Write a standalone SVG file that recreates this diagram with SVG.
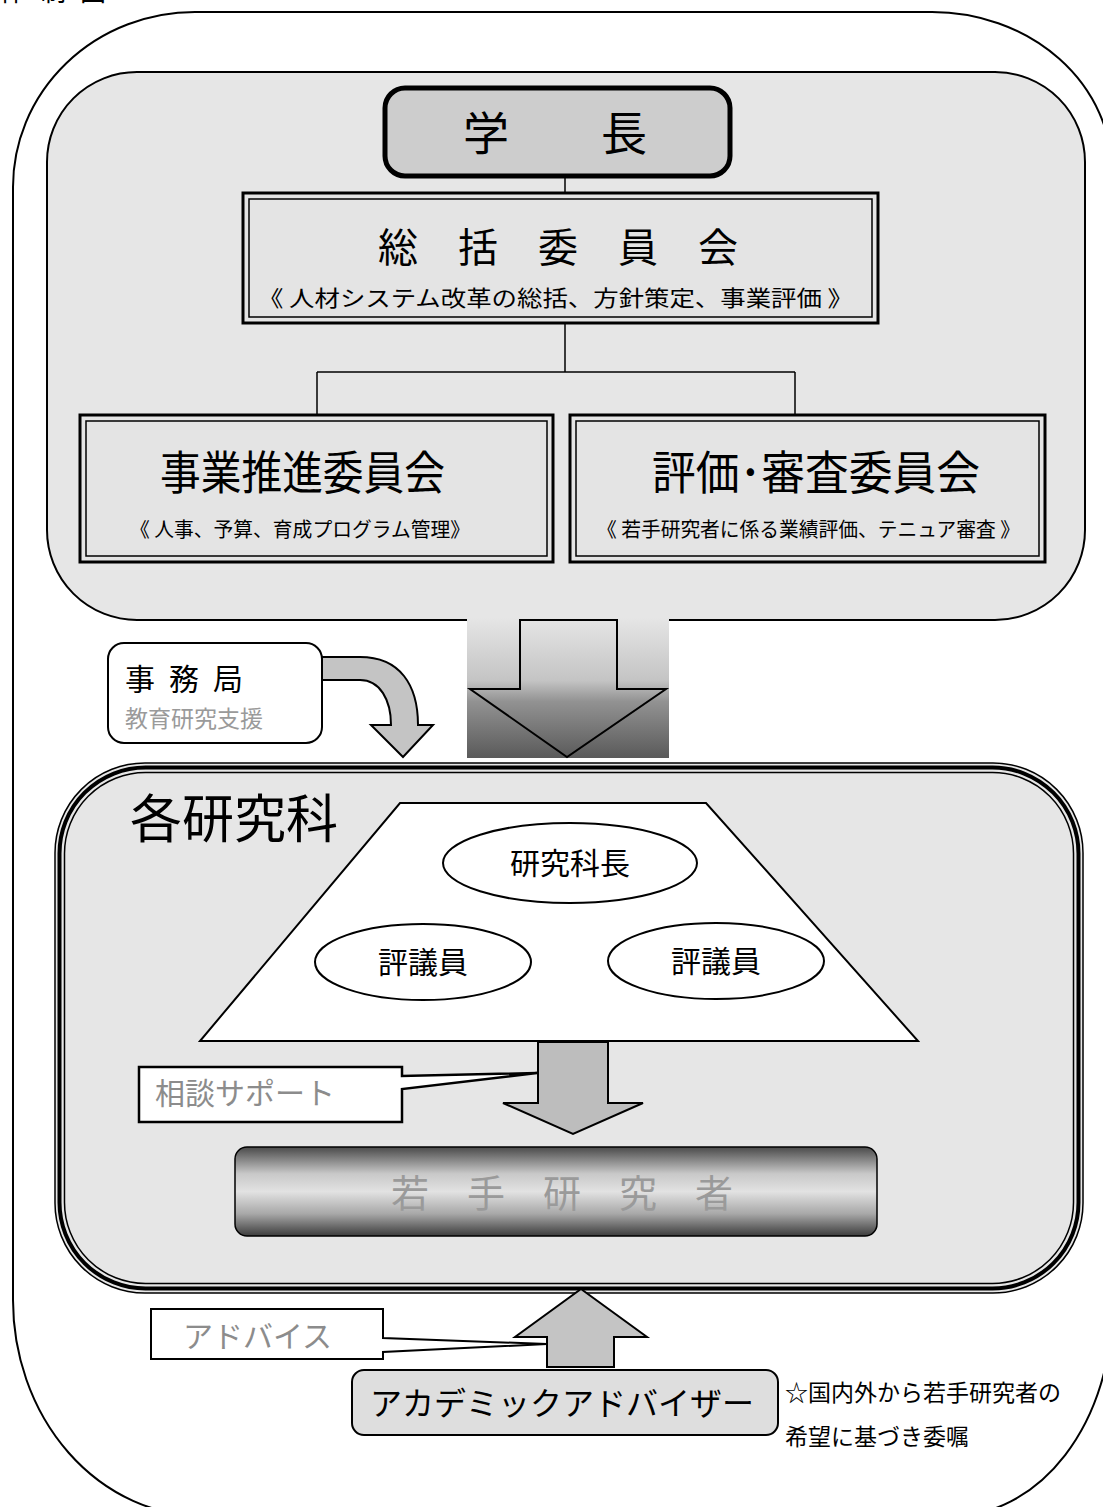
<svg xmlns="http://www.w3.org/2000/svg" width="1103" height="1507" viewBox="0 0 1103 1507">
<defs>
<style>
.t{font-family:"Noto Sans CJK JP","Noto Sans CJK SC",sans-serif;fill:#000}
.g{fill:#8c8c8c}
.gw{fill:#9a9a9a}
.ln{stroke:#000;stroke-width:1.5;fill:none}
.bx{stroke:#000;fill:#e4e4e4}
</style>
<linearGradient id="gradBig" x1="0" y1="0" x2="0" y2="1">
<stop offset="0" stop-color="#e6e6e6"/>
<stop offset="0.45" stop-color="#c4c4c4"/>
<stop offset="0.6" stop-color="#929292"/>
<stop offset="1" stop-color="#5a5a5a"/>
</linearGradient>
<linearGradient id="gradBar" x1="0" y1="0" x2="0" y2="1">
<stop offset="0" stop-color="#4a4a4a"/>
<stop offset="0.3" stop-color="#c8c8c8"/>
<stop offset="0.5" stop-color="#e2e2e2"/>
<stop offset="0.75" stop-color="#a8a8a8"/>
<stop offset="1" stop-color="#3c3c3c"/>
</linearGradient>
</defs>
<rect x="0" y="0" width="1103" height="1507" fill="#fff"/>
<text class="t" x="0" y="1" font-size="26" letter-spacing="14">体制図</text>
<g id="outer-frame">
<path d="M13,187 A182,175 0 0 1 195,12 L932,12 A180,160 0 0 1 1112,172 L1112,1308 A160,208 0 0 1 952,1516 L203,1516 A190,216 0 0 1 13,1300 Z" fill="#fff" stroke="#000" stroke-width="2"/>
</g>
<g id="top-panel">
<rect x="47" y="72" width="1038" height="548" rx="90" ry="90" fill="#e6e6e6" stroke="#000" stroke-width="2"/>
</g>
<g id="connectors">
<line class="ln" x1="565" y1="176" x2="565" y2="193"/>
<line class="ln" x1="565" y1="323" x2="565" y2="372"/>
<line class="ln" x1="317" y1="372" x2="795" y2="372"/>
<line class="ln" x1="317" y1="372" x2="317" y2="415"/>
<line class="ln" x1="795" y1="372" x2="795" y2="415"/>
</g>
<g id="gakucho">
<rect x="385" y="88" width="345" height="88" rx="20" fill="#cdcdcd" stroke="#000" stroke-width="5"/>
<text class="t" x="555" y="150" font-size="46" text-anchor="middle">学　　長</text>
</g>
<g id="soukatsu">
<rect class="bx" x="243" y="193" width="635" height="130" stroke-width="3"/>
<rect x="249" y="199" width="623" height="118" fill="none" stroke="#000" stroke-width="1.5"/>
<text class="t" x="558" y="262" font-size="40" text-anchor="middle">総　括　委　員　会</text>
<text class="t" x="258" y="306" font-size="22" textLength="595" lengthAdjust="spacingAndGlyphs">《 人材システム改革の総括、方針策定、事業評価 》</text>
</g>
<g id="jigyo">
<rect class="bx" x="80" y="415" width="473" height="147" stroke-width="3"/>
<rect x="86" y="421" width="461" height="135" fill="none" stroke="#000" stroke-width="1.5"/>
<text class="t" x="160" y="489" font-size="46" textLength="285" lengthAdjust="spacingAndGlyphs">事業推進委員会</text>
<text class="t" x="130" y="537" font-size="20" textLength="340" lengthAdjust="spacingAndGlyphs">《 人事、予算、育成プログラム管理》</text>
</g>
<g id="hyouka">
<rect class="bx" x="570" y="415" width="475" height="147" stroke-width="3"/>
<rect x="576" y="421" width="463" height="135" fill="none" stroke="#000" stroke-width="1.5"/>
<text class="t" x="652" y="489" font-size="46" textLength="328" lengthAdjust="spacingAndGlyphs">評価･審査委員会</text>
<text class="t" x="597" y="537" font-size="20" textLength="423" lengthAdjust="spacingAndGlyphs">《 若手研究者に係る業績評価、テニュア審査 》</text>
</g>
<g id="jimukyoku">
<rect x="108" y="643" width="214" height="100" rx="16" fill="#fff" stroke="#000" stroke-width="2"/>
<text class="t" x="125" y="690" font-size="30" letter-spacing="14">事務局</text>
<text class="t gw" x="125" y="727" font-size="23">教育研究支援</text>
</g>
<g id="arrows">
<path d="M322,657 L360,657 C400,657 418,685 418,725 L433,725 L403,757 L371,725 L391,725 C391,700 380,680 360,680 L322,680 Z" fill="#c4c4c4" stroke="#000" stroke-width="2"/>
<rect x="467" y="617" width="202" height="141" fill="url(#gradBig)"/>
<path d="M520,620 L520,689 L470,689 L567,757 L666,689 L617,689 L617,620 Z" fill="none" stroke="#000" stroke-width="2"/>
</g>
<g id="kenkyuka">
<rect x="55" y="763" width="1028" height="530" rx="90" ry="90" fill="#e6e6e6" stroke="#000" stroke-width="1.5"/>
<rect x="59.5" y="767.5" width="1019" height="521" rx="86" ry="86" fill="none" stroke="#000" stroke-width="4"/>
<rect x="64.5" y="772.5" width="1009" height="511" rx="81" ry="81" fill="none" stroke="#000" stroke-width="1.5"/>
<text class="t" x="130" y="838" font-size="52">各研究科</text>
</g>
<g id="trapezoid">
<polygon points="400,803 706,803 918,1041 200,1041" fill="#fff" stroke="#000" stroke-width="2"/>
</g>
<g id="kenkyukacho">
<ellipse cx="570" cy="863" rx="127" ry="40" fill="#fff" stroke="#000" stroke-width="2"/>
<text class="t" x="570" y="874" font-size="30" text-anchor="middle">研究科長</text>
</g>
<g id="hyogiin-1">
<ellipse cx="423" cy="962" rx="108" ry="38" fill="#fff" stroke="#000" stroke-width="2"/>
<text class="t" x="423" y="973" font-size="30" text-anchor="middle">評議員</text>
</g>
<g id="hyogiin-2">
<ellipse cx="716" cy="961" rx="108" ry="38" fill="#fff" stroke="#000" stroke-width="2"/>
<text class="t" x="716" y="972" font-size="30" text-anchor="middle">評議員</text>
</g>
<g id="soudan-arrow">
<path d="M538,1042 L608,1042 L608,1103 L643,1103 L573,1134 L503,1103 L538,1103 Z" fill="#bdbdbd" stroke="#000" stroke-width="2"/>
</g>
<g id="soudan-callout">
<path d="M139,1067 L402,1067 L402,1076 L537,1073 L402,1089 L402,1122 L139,1122 Z" fill="#fff" stroke="#000" stroke-width="2.5"/>
<text class="t g" x="155" y="1104" font-size="30">相談サポート</text>
</g>
<g id="wakate">
<rect x="235" y="1147" width="642" height="89" rx="12" fill="url(#gradBar)" stroke="#000" stroke-width="1.5"/>
<text class="t gw" x="562" y="1207" font-size="38" text-anchor="middle">若　手　研　究　者</text>
</g>
<g id="advise-arrow">
<path d="M581,1289 L647,1337 L614,1337 L614,1367 L547,1367 L547,1337 L515,1337 Z" fill="#c4c4c4" stroke="#000" stroke-width="2"/>
</g>
<g id="advise-callout">
<path d="M151,1309 L383,1309 L383,1338 L547,1344 L383,1352 L383,1359 L151,1359 Z" fill="#fff" stroke="#000" stroke-width="2"/>
<text class="t g" x="183" y="1347" font-size="30">アドバイス</text>
</g>
<g id="advisor">
<rect x="352" y="1370" width="426" height="65" rx="12" fill="#dedede" stroke="#000" stroke-width="2"/>
<text class="t" x="370" y="1415" font-size="32">アカデミックアドバイザー</text>
</g>
<g id="note">
<text class="t" x="785" y="1401" font-size="23">☆国内外から若手研究者の</text>
<text class="t" x="785" y="1445" font-size="23">希望に基づき委嘱</text>
</g>
</svg>
